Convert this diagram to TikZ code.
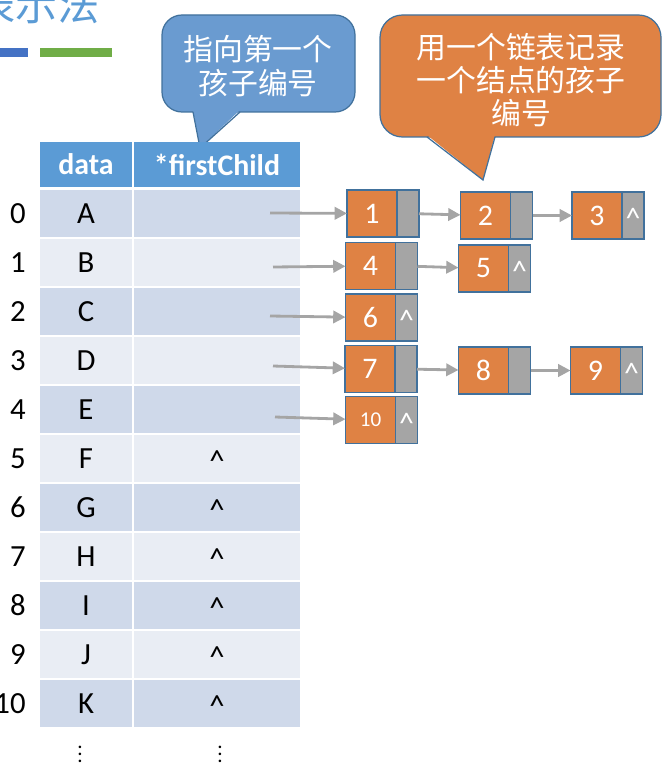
\documentclass[tikz,border=0pt]{standalone}
\usepackage{fontspec}
\setmainfont{Carlito}
\newfontfamily\cjk{Noto Sans CJK SC}
\usetikzlibrary{arrows.meta,positioning}
\definecolor{hdblue}{HTML}{5B9BD5}
\definecolor{rowdark}{HTML}{CFD9EA}
\definecolor{rowlight}{HTML}{E9EDF4}
\definecolor{lnorange}{HTML}{DF8244}
\definecolor{lngray}{HTML}{A5A5A5}
\definecolor{lnedge}{HTML}{41719C}
\definecolor{tipblue}{HTML}{6A9BD0}
\definecolor{barblue}{HTML}{4472C4}
\definecolor{bargreen}{HTML}{70AD47}

\begin{document}
\begin{tikzpicture}[
    x=0.02cm, y=-0.02cm,
    head/.style={rectangle,fill=hdblue,text=white,font=\fontsize{17}{18}\selectfont\bfseries,minimum height=0.9cm,inner sep=0pt,outer sep=0pt},
    dcell/.style={rectangle,minimum width=1.84cm,minimum height=0.94cm,inner sep=0pt,outer sep=0pt,font=\fontsize{17.5}{18}\selectfont},
    pcell/.style={dcell,minimum width=3.32cm},
    even/.style={fill=rowdark},
    odd/.style={fill=rowlight},
    idx/.style={anchor=east,inner sep=0pt,font=\fontsize{17.5}{18}\selectfont},
    hat/.style={text height=15pt,text depth=0pt},
    val/.style={rectangle,draw=lnedge,line width=0.8pt,fill=lnorange,text=white,minimum width=1.0cm,minimum height=0.94cm,inner sep=0pt,outer sep=0pt,font=\fontsize{17}{18}\selectfont},
    nxt/.style={val,fill=lngray,minimum width=0.44cm},
    link/.style={draw=lngray,line width=1.6pt,-{Triangle[length=7pt,width=7pt]}},
    tip/.style={text=white,align=center,font=\cjk\fontsize{17}{19}\selectfont}
]
    \useasboundingbox (0,0) rectangle (663,773);

    % title and the two bars under it
    \node[anchor=base east,text=hdblue,font=\cjk\fontsize{24}{26}\selectfont] (title) at (106,21) {表示法};
    \fill[barblue] (0,48) rectangle (28,57);
    \fill[bargreen] (40,48) rectangle (112,57);

    % callouts
    \filldraw[fill=tipblue,draw=lnedge,line width=0.7pt,rounded corners=0.4cm] (162,15) rectangle (355,112);
    \fill[tipblue] (193,110) -- (200,148) -- (240,110) -- cycle;
    \draw[lnedge,line width=0.7pt] (193,112) -- (200,148) -- (240,112);
    \node[tip] (tipA) at (258,66) {指向第一个\\孩子编号};

    \filldraw[fill=lnorange,draw=lnedge,line width=0.7pt,rounded corners=0.45cm] (380,15) rectangle (661,137);
    \fill[lnorange] (427,135) -- (483,180) -- (495,135) -- cycle;
    \draw[lnedge,line width=0.7pt] (427,137) -- (483,180) -- (495,137);
    \node[tip] (tipB) at (521,80) {用一个链表记录\\一个结点的孩子\\编号};

    % the table
    \node[head,minimum width=1.84cm] (hd) at (86,164.5)  {data};
    \node[head,minimum width=3.32cm] (hf) at (217,164.5) {*firstChild};

    \node[idx] (i0)  at (26,213.5) {0};  \node[dcell,even] (d0)  at (86,213.5) {A}; \node[pcell,even] (f0) at (217,213.5) {};
    \node[idx] (i1)  at (26,262.5) {1};  \node[dcell,odd]  (d1)  at (86,262.5) {B}; \node[pcell,odd]  (f1) at (217,262.5) {};
    \node[idx] (i2)  at (26,311.5) {2};  \node[dcell,even] (d2)  at (86,311.5) {C}; \node[pcell,even] (f2) at (217,311.5) {};
    \node[idx] (i3)  at (26,360.5) {3};  \node[dcell,odd]  (d3)  at (86,360.5) {D}; \node[pcell,odd]  (f3) at (217,360.5) {};
    \node[idx] (i4)  at (26,409.5) {4};  \node[dcell,even] (d4)  at (86,409.5) {E}; \node[pcell,even] (f4) at (217,409.5) {};
    \node[idx] (i5)  at (26,458.5) {5};  \node[dcell,odd]  (d5)  at (86,458.5) {F}; \node[pcell,odd,hat]  (f5)  at (217,458.5) {\textasciicircum};
    \node[idx] (i6)  at (26,507.5) {6};  \node[dcell,even] (d6)  at (86,507.5) {G}; \node[pcell,even,hat] (f6)  at (217,507.5) {\textasciicircum};
    \node[idx] (i7)  at (26,556.5) {7};  \node[dcell,odd]  (d7)  at (86,556.5) {H}; \node[pcell,odd,hat]  (f7)  at (217,556.5) {\textasciicircum};
    \node[idx] (i8)  at (26,605.5) {8};  \node[dcell,even] (d8)  at (86,605.5) {I}; \node[pcell,even,hat] (f8)  at (217,605.5) {\textasciicircum};
    \node[idx] (i9)  at (26,654.5) {9};  \node[dcell,odd]  (d9)  at (86,654.5) {J}; \node[pcell,odd,hat]  (f9)  at (217,654.5) {\textasciicircum};
    \node[idx] (i10) at (26,703.5) {10}; \node[dcell,even] (d10) at (86,703.5) {K}; \node[pcell,even,hat] (f10) at (217,703.5) {\textasciicircum};

    \node[font=\large] (dotd) at (80,749)  {$\vdots$};
    \node[font=\large] (dotf) at (220,749) {$\vdots$};

    % child lists
    \node[val] (n1) at (372,213.5)   {1};  \node[nxt,right=0pt of n1] (p1) {};
    \node[val] (n2) at (485.5,215.5) {2};  \node[nxt,right=0pt of n2] (p2) {};
    \node[val] (n3) at (597,215.5)   {3};  \node[nxt,hat,right=0pt of n3] (p3) {\textasciicircum};
    \node[val] (n4) at (370.5,266)   {4};  \node[nxt,right=0pt of n4] (p4) {};
    \node[val] (n5) at (483.5,268.5) {5};  \node[nxt,hat,right=0pt of n5] (p5) {\textasciicircum};
    \node[val] (n6) at (370.5,317.5) {6};  \node[nxt,hat,right=0pt of n6] (p6) {\textasciicircum};
    \node[val] (n7) at (370,369)     {7};  \node[nxt,right=0pt of n7] (p7) {};
    \node[val] (n8) at (483.5,370.5) {8};  \node[nxt,right=0pt of n8] (p8) {};
    \node[val] (n9) at (595.5,370.5) {9};  \node[nxt,hat,right=0pt of n9] (p9) {\textasciicircum};
    \node[val,font=\fontsize{12}{14}\selectfont] (n10) at (370.5,420) {10};
    \node[nxt,hat,right=0pt of n10] (p10) {\textasciicircum};

    \coordinate (s0) at (270,213);
    \coordinate (s1) at (273,267);
    \coordinate (s2) at (270,316);
    \coordinate (s3) at (273,366);
    \coordinate (s4) at (275,417);

    \draw[link] (s0) -- (n1);
    \draw[link] (s1) -- (n4);
    \draw[link] (s2) -- (n6);
    \draw[link] (s3) -- (n7);
    \draw[link] (s4) -- (n10);
    \draw[link] (p1) -- (n2);
    \draw[link] (p2) -- (n3);
    \draw[link] (p4) -- (n5);
    \draw[link] (p7) -- (n8);
    \draw[link] (p8) -- (n9);
\end{tikzpicture}
\end{document}
